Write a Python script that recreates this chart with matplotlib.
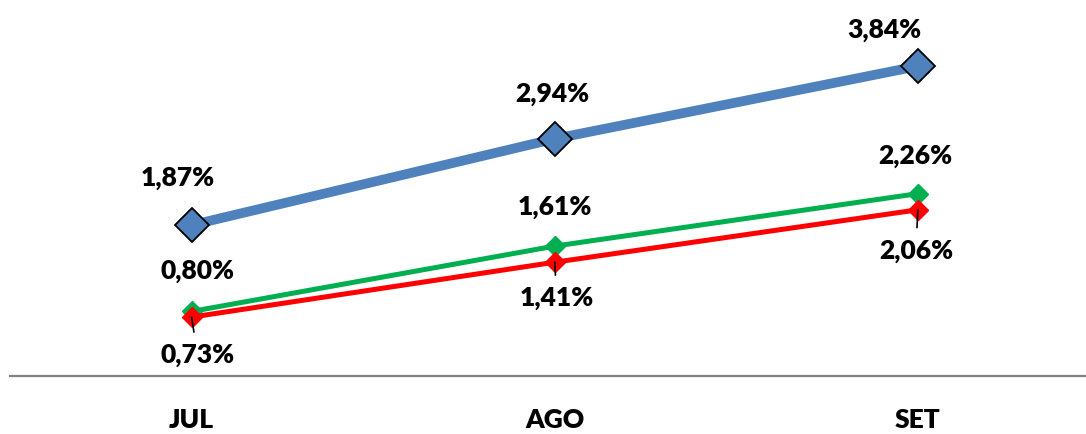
import matplotlib
matplotlib.use("Agg")
import matplotlib.pyplot as plt

plt.rcParams['font.family'] = ['Lato', 'DejaVu Sans']

months = ["JUL", "AGO", "SET"]
blue_vals = [1.87, 2.94, 3.84]
green_vals = [0.80, 1.61, 2.26]
red_vals = [0.73, 1.41, 2.06]

blue_offsets = [(-14, 47), (-2, 45), (-33, 36)]
green_offsets = [(6, 40), (0, 39), (-3, 38)]
red_offsets = [(6, -38), (2, -36), (-2, -41)]

FS = 19
FW = 'heavy'

fig = plt.figure(figsize=(10.86, 4.34), dpi=100)
ax = fig.add_axes([10/1086, 58/434, 1 - 10/1086, 1 - 58/434])
x = list(range(len(months)))

ax.plot(x, blue_vals, color='#4F81BD', lw=7, marker='D', ms=17,
        mfc='#4F81BD', mec='black', mew=1.3, zorder=3, solid_capstyle='butt')
ax.plot(x, green_vals, color='#00B050', lw=3.6, marker='D', ms=10,
        mfc='#00B050', mec='#00B050', zorder=4)
ax.plot(x, red_vals, color='#FF0000', lw=3.6, marker='D', ms=10,
        mfc='#FF0000', mec='#FF0000', zorder=5)

def fmt(v):
    return f"{v:.2f}".replace('.', ',') + '%'

for xi, v, off in zip(x, blue_vals, blue_offsets):
    ax.annotate(fmt(v), (xi, v), xytext=off, textcoords='offset pixels',
                ha='center', va='center', fontsize=FS, fontweight=FW, zorder=6)
for xi, v, off in zip(x, green_vals, green_offsets):
    ax.annotate(fmt(v), (xi, v), xytext=off, textcoords='offset pixels',
                ha='center', va='center', fontsize=FS, fontweight=FW, zorder=6)
for xi, v, off in zip(x, red_vals, red_offsets):
    ax.annotate(fmt(v), (xi, v), xytext=off, textcoords='offset pixels',
                ha='center', va='center', fontsize=FS, fontweight=FW, zorder=6,
                arrowprops=dict(arrowstyle='-', color='black', lw=1.2,
                                shrinkA=6, shrinkB=0))

ax.set_xlim(-0.5, 2.463)
ax.set_ylim(0, 4.66)
ax.set_xticks(x)
ax.set_xticklabels(months, fontsize=FS, fontweight=FW)
ax.tick_params(axis='x', length=0, pad=23)
ax.set_yticks([])
for s in ['top', 'right', 'left']:
    ax.spines[s].set_visible(False)
ax.spines['bottom'].set_color('#808080')
ax.spines['bottom'].set_linewidth(1.6)

fig.savefig('out.png', dpi=100)
